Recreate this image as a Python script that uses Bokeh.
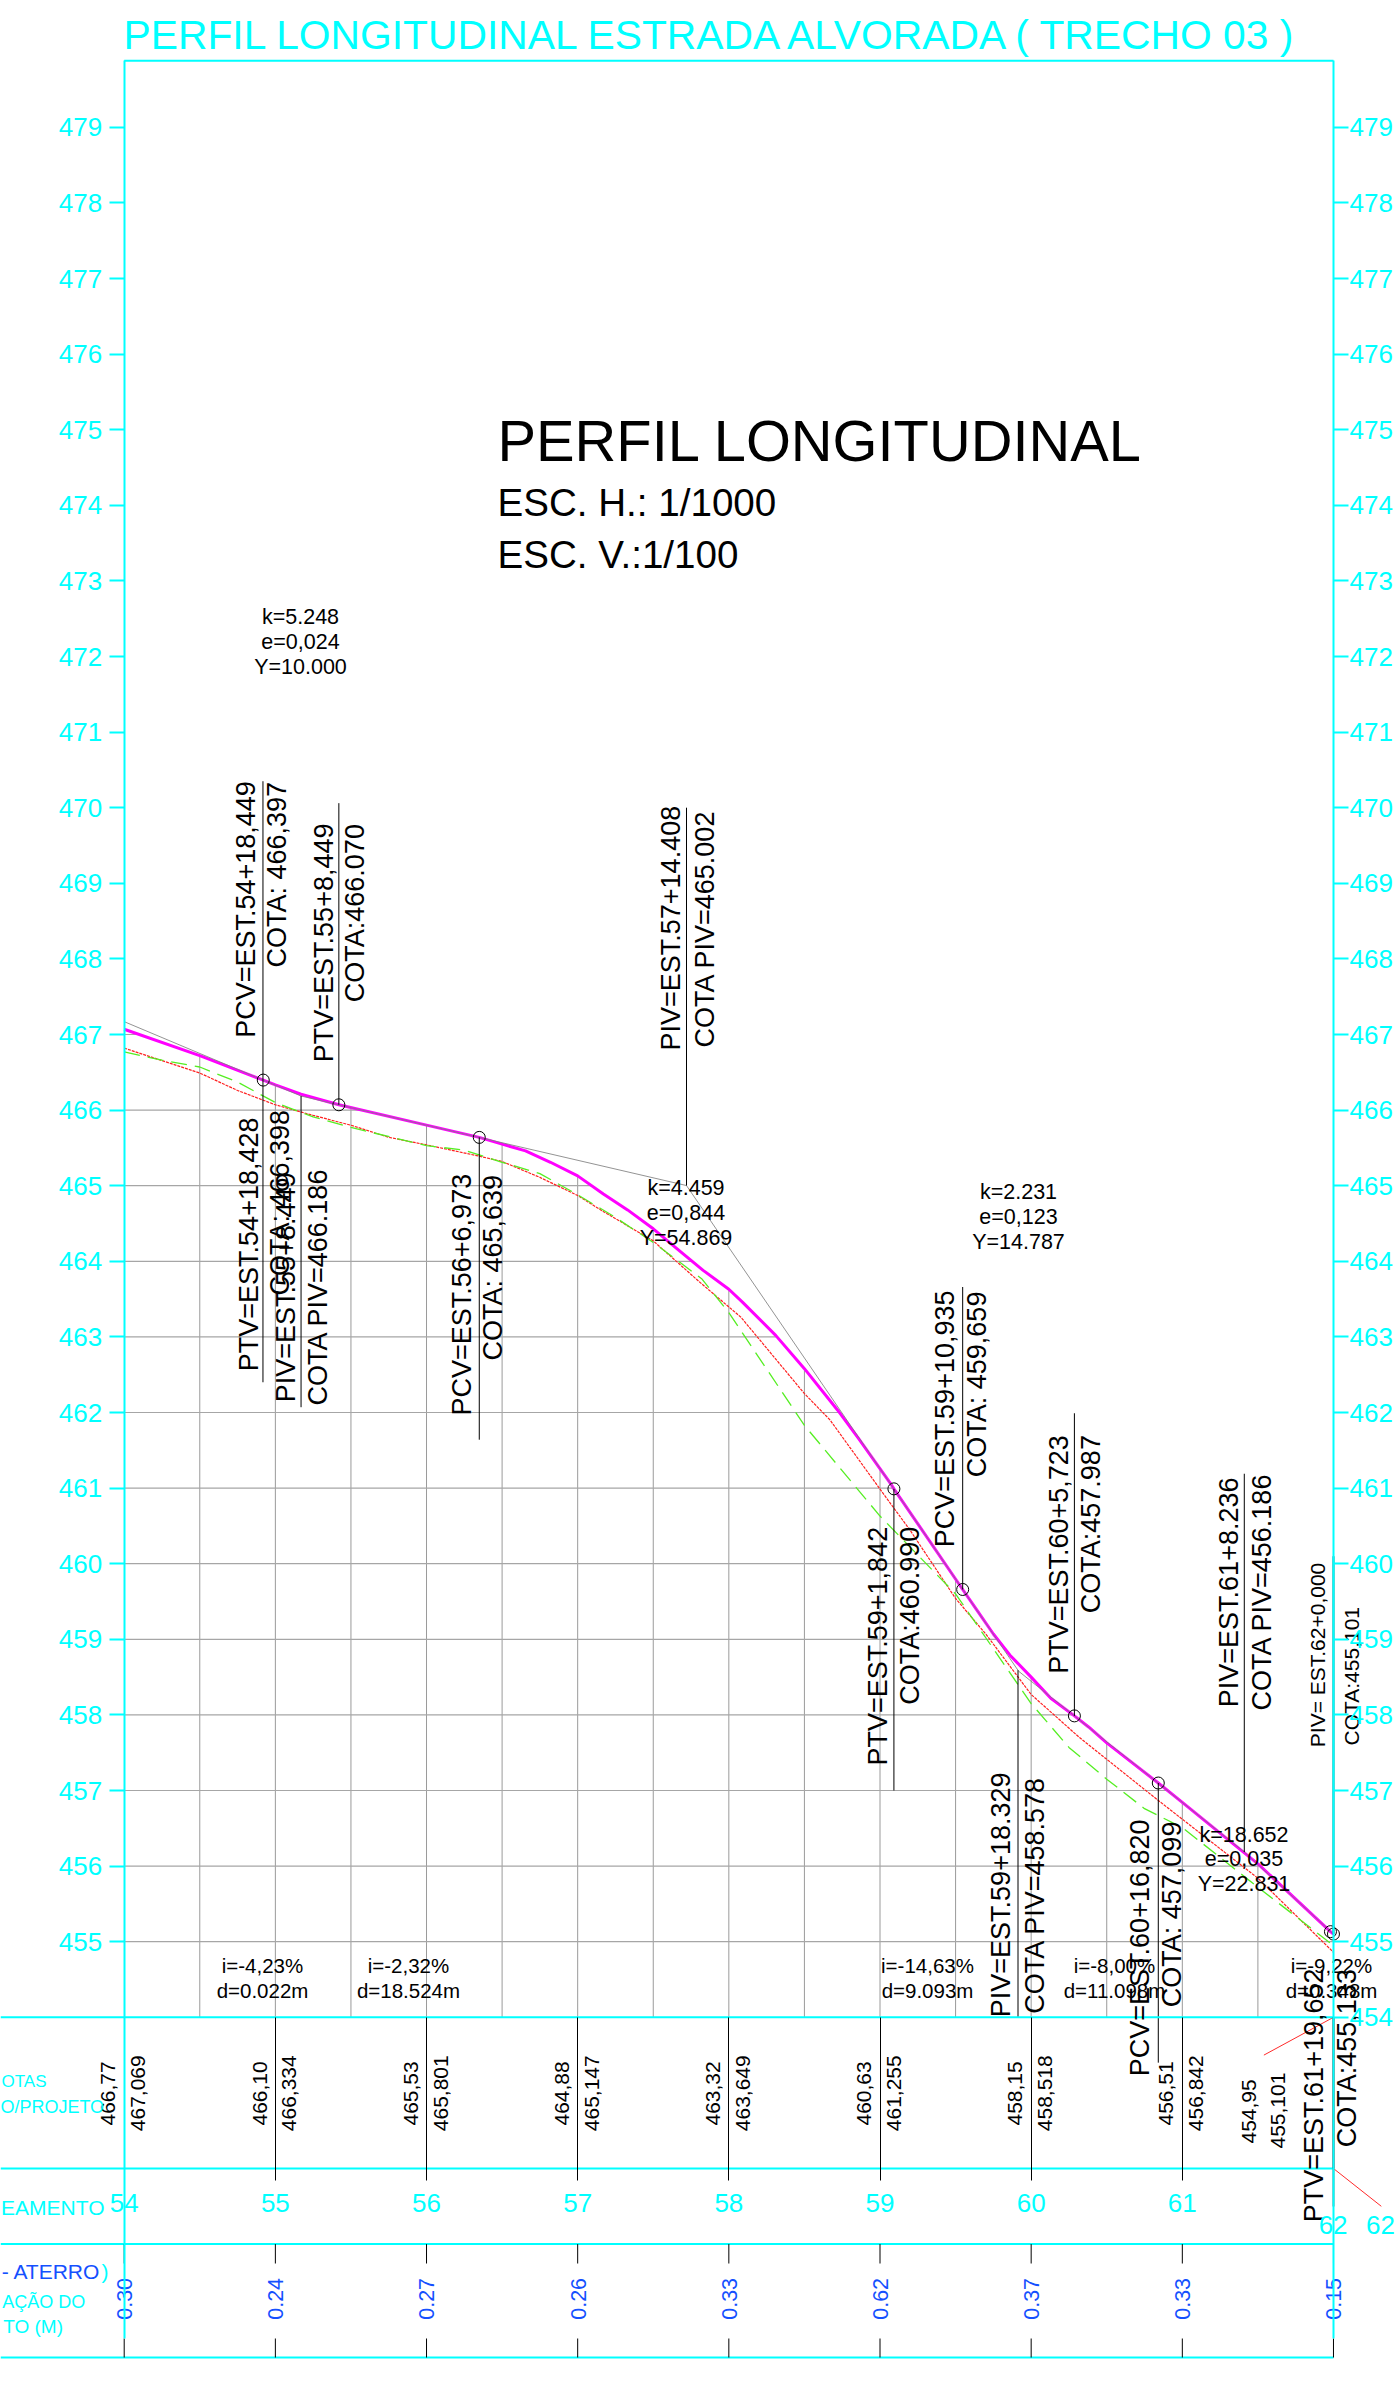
import math
import numpy as np
from bokeh.core.properties import value
from bokeh.embed import file_html
from bokeh.models import FixedTicker, LinearAxis, Range1d
from bokeh.plotting import figure
from bokeh.resources import INLINE

# ---------- data ----------
stations = [54, 55, 56, 57, 58, 59, 60, 61, 62]
terrain_cota = ["466,77", "466,10", "465,53", "464,88", "463,32", "460,63", "458,15", "456,51", "454,95"]
project_cota = ["467,069", "466,334", "465,801", "465,147", "463,649", "461,255", "458,518", "456,842", "455,101"]
offset_values = ["0.30", "0.24", "0.27", "0.26", "0.33", "0.62", "0.37", "0.33", "0.15"]

elevation_ticks_left = list(range(455, 480))
elevation_ticks_right = list(range(454, 480))

profile_st = [54, 54.5, 54.92, 55, 55.17, 55.42, 56, 56.349, 56.5, 56.655, 56.82, 57, 57.17, 57.33, 57.5, 57.66,
              57.83, 58, 58.09, 58.31, 58.5, 58.72, 58.86, 59.07, 59.092, 59.547, 59.64, 59.75, 59.86, 60, 60.13,
              60.286, 60.38, 60.5, 60.841, 61, 61.5, 61.98, 62]
profile_el = [467.069, 466.72, 466.397, 466.334, 466.21, 466.07, 465.801, 465.639, 465.55, 465.46, 465.31, 465.13,
              464.89, 464.68, 464.43, 464.16, 463.88, 463.63, 463.46, 463.02, 462.58, 462.03, 461.65, 461.06, 460.99,
              459.659, 459.39, 459.07, 458.79, 458.5, 458.22, 457.987, 457.84, 457.63, 457.099, 456.842, 456.03,
              455.133, 455.101]

tangent_st = [54, 55.17, 57.72, 59.917, 61.41, 62]
tangent_el = [467.17, 466.186, 465.002, 458.578, 456.186, 455.101]

red_st = [54, 54.5, 54.75, 55, 55.25, 55.5, 55.75, 56, 56.35, 56.5, 56.75, 57, 57.16, 57.5, 57.81, 58.08, 58.5,
          58.67, 58.995, 59.2, 59.5, 59.7, 60, 60.32, 60.84, 61.5, 62]
red_el = [466.82, 466.49, 466.26, 466.07, 465.93, 465.80, 465.64, 465.54, 465.39, 465.32, 465.11, 464.87, 464.67,
          464.27, 463.72, 463.26, 462.25, 461.9, 461.0, 460.44, 459.54, 459.07, 458.27, 457.7, 456.87, 455.84, 454.86]

green_st = [54, 54.25, 54.5, 54.75, 55, 55.25, 55.5, 56, 56.25, 56.5, 56.75, 57, 57.25, 57.5, 57.82, 58, 58.5, 59,
            59.5, 60, 60.25, 60.5, 60.75, 61, 61.5, 62]
green_el = [466.77, 466.66, 466.57, 466.37, 466.10, 465.91, 465.77, 465.53, 465.47, 465.31, 465.16, 464.88, 464.58,
            464.25, 463.77, 463.32, 461.83, 460.63, 459.6, 458.15, 457.57, 457.15, 456.76, 456.51, 455.72, 454.95]

curve_points_st = [54.92, 55.42, 56.349, 59.092, 59.547, 60.286, 60.841, 61.98, 62]
curve_points_el = [466.397, 466.07, 465.639, 460.99, 459.659, 457.987, 457.099, 455.133, 455.101]

grid_half_stations = [54.5, 55, 55.5, 56, 56.5, 57, 57.5, 58, 58.5, 59, 59.5, 60, 60.5, 61, 61.5]
grid_elevations = list(range(455, 468))

# ---------- page <-> data scales ----------
PX_PER_ST = 151.16
PX_PER_M = 75.6


def X(px):
    return 54 + (px - 123.7) / PX_PER_ST


def Y(py):
    return 479 - (py - 126.8) / PX_PER_M


FONT = value("Liberation Sans")
CYAN = "#00ffff"
BLUE = "#1450ff"
BASE = 0.35  # distance between Bokeh's alphabetic anchor and the drawn baseline, in font sizes

p = figure(width=1400, height=2382, output_backend="svg", toolbar_location=None,
           x_range=Range1d(X(0), X(1400)), y_range=Range1d(Y(2382), Y(0)),
           x_axis_location=None, y_axis_location=None, min_border=0,
           background_fill_color="white", border_fill_color="white", outline_line_color=None)
p.grid.visible = False
p.min_border_left = p.min_border_right = p.min_border_top = p.min_border_bottom = 0

# ---------- grid clipped by the project profile ----------
rev_el = profile_el[::-1]
rev_st = profile_st[::-1]
grid_top = np.interp(grid_half_stations, profile_st, profile_el)
p.segment(x0=grid_half_stations, y0=[454] * len(grid_half_stations), x1=grid_half_stations, y1=grid_top,
          line_color="#9a9a9a", line_width=1)
grid_end = np.interp(grid_elevations, rev_el, rev_st)
p.segment(x0=[54] * len(grid_elevations), y0=grid_elevations, x1=grid_end, y1=grid_elevations,
          line_color="#a6a6a6", line_width=1.2)

# ---------- profiles ----------
p.line(red_st, red_el, line_color="#ff2020", line_width=1.2, line_dash="3 1")
p.line(green_st, green_el, line_color="#55ee22", line_width=1.3, line_dash="16 8")
p.line(profile_st, profile_el, line_color="#ff00ff", line_width=3, line_join="round")
p.line(tangent_st, tangent_el, line_color="#808080", line_width=1, line_alpha=0.85)

# ---------- leaders ----------
leaders = [(54.918, 462.4, 470.35), (55.42, 466.07, 470.06), (55.17, 462.07, 466.186), (56.349, 461.64, 465.639),
           (57.72, 465.002, 470.0), (59.092, 457.0, 460.99), (59.547, 459.659, 463.66), (60.286, 457.987, 461.99),
           (61.41, 456.186, 461.19), (59.913, 454.0, 458.59), (60.841, 453.4, 457.099)]
p.segment(x0=[l[0] for l in leaders], y0=[l[1] for l in leaders], x1=[l[0] for l in leaders],
          y1=[l[2] for l in leaders], line_color="black", line_width=1)
p.scatter(curve_points_st, curve_points_el, size=12, marker="circle", fill_color=None, line_color="black", line_width=1)

# outlying red strokes at the end of the profile
p.segment(x0=[X(1263.4), 62], y0=[453.5, 452], x1=[62, X(1380.8)], y1=[454, 451.5], line_color="#ff2a2a", line_width=1)

# ---------- table ruling ----------
table_levels = [454, 452, 451, 449.5]
p.segment(x0=[X(0)] * 4, y0=table_levels, x1=[62] * 4, y1=table_levels, line_color=CYAN, line_width=2)
p.line([54, 62], [Y(60.3), Y(60.3)], line_color=CYAN, line_width=2)
p.segment(x0=stations, y0=[451] * 9, x1=stations, y1=[Y(2263)] * 9, line_color="black", line_width=1)
p.segment(x0=stations, y0=[Y(2338)] * 9, x1=stations, y1=[449.5] * 9, line_color="black", line_width=1)

# ---------- axes ----------
BOUNDS = (Y(2338), Y(60.3))
for side, loc, ticks, standoff in (("left", 54, elevation_ticks_left, 7), ("right", 62, elevation_ticks_right, 1)):
    ax = LinearAxis(fixed_location=loc, ticker=FixedTicker(ticks=ticks), bounds=BOUNDS,
                    axis_line_color=CYAN, axis_line_width=2, major_tick_line_color=CYAN, major_tick_line_width=2,
                    major_tick_in=0, major_tick_out=15, minor_tick_line_color=None,
                    major_label_text_color=CYAN, major_label_text_font="Liberation Sans",
                    major_label_text_font_size="26px", major_label_standoff=standoff,
                    major_label_orientation="horizontal")
    p.add_layout(ax, side)

st_axis = LinearAxis(fixed_location=452, ticker=FixedTicker(ticks=stations[:-1]), axis_line_color=None,
                     major_tick_line_color="black", major_tick_line_width=1, major_tick_in=151, major_tick_out=12,
                     minor_tick_line_color=None, major_label_text_color=CYAN,
                     major_label_text_font="Liberation Sans", major_label_text_font_size="26px",
                     major_label_standoff=13)
p.add_layout(st_axis, "below")

# right-hand closing stretch, over the cyan axis
p.segment(x0=[62, 62, 62], y0=[455.1, 452, Y(2206)], x1=[62, 62, 62], y1=[460.1, 454, 452],
          line_color=["#007f7f", "#301010", "#777777"], line_width=2)


def put(text, px, py, size, color="black", angle=0, align="left"):
    if angle:
        px -= BASE * size
    else:
        py -= BASE * size
    p.text(x=[X(px)], y=[Y(py)], text=[text], text_font=FONT, text_font_size=f"{size}px", text_color=color,
           angle=angle, text_align=align, text_baseline="alphabetic")


UP = math.pi / 2

put("PERFIL LONGITUDINAL ESTRADA ALVORADA ( TRECHO 03 )", 123, 49, 40.8, CYAN)
put("PERFIL LONGITUDINAL", 497, 461, 57.8)
put("ESC. H.: 1/1000", 497, 516, 38.6)
put("ESC. V.:1/100", 497, 568, 38.6)

for lines, cx, ys in ((("k=5.248", "e=0,024", "Y=10.000"), 300, (624, 649, 674)),
                      (("k=4.459", "e=0,844", "Y=54.869"), 685.5, (1195, 1220, 1245)),
                      (("k=2.231", "e=0,123", "Y=14.787"), 1018, (1199.3, 1224.3, 1249.3)),
                      (("k=18.652", "e=0,035", "Y=22.831"), 1243.5, (1841.7, 1866, 1890.7))):
    for t, y in zip(lines, ys):
        put(t, cx, y, 21.5, align="center")

for t, x, y, s in (("PCV=EST.54+18,449", 255.4, 1037.3, 27), ("COTA: 466,397", 285.7, 967, 27),
                   ("PTV=EST.55+8,449", 332.6, 1061.7, 27), ("COTA:466.070", 363.8, 1001.7, 27),
                   ("PIV=EST.57+14.408", 679.5, 1050, 27), ("COTA PIV=465.002", 713.7, 1047, 27),
                   ("PTV=EST.54+18,428", 257.6, 1370.7, 27), ("COTA: 466,398", 289.3, 1295, 27),
                   ("PIV=EST.55+8.449", 294.6, 1401.7, 27), ("COTA PIV=466.186", 327, 1405, 27),
                   ("PCV=EST.56+6,973", 471, 1415, 27), ("COTA: 465,639", 502, 1360, 27),
                   ("PCV=EST.59+10,935", 953.6, 1546.7, 27), ("COTA: 459,659", 985.7, 1476.7, 27),
                   ("PTV=EST.59+1,842", 886.6, 1765, 27), ("COTA:460.990", 918.7, 1704.3, 27),
                   ("PTV=EST.60+5,723", 1068.3, 1673.3, 27), ("COTA:457.987", 1099.6, 1612.7, 27),
                   ("PIV=EST.61+8.236", 1238, 1706.7, 27), ("COTA PIV=456.186", 1270.5, 1710, 27),
                   ("PIV=EST.59+18.329", 1010, 2016.7, 27), ("COTA PIV=458.578", 1043.8, 2013.3, 27),
                   ("PCV=EST.60+16,820", 1148.7, 2075.7, 27), ("COTA: 457,099", 1181, 2006.7, 27),
                   ("PTV=EST.61+19,652", 1322.8, 2221.7, 27), ("COTA:455,133", 1356, 2146.7, 27),
                   ("PIV= EST.62+0,000", 1324, 1746.7, 21), ("COTA:455,101", 1358.5, 1745, 21)):
    put(t, x, y, s, angle=UP)

for (a, b), cx in ((("i=-4,23%", "d=0.022m"), 262), (("i=-2,32%", "d=18.524m"), 408),
                   (("i=-14,63%", "d=9.093m"), 927), (("i=-8,00%", "d=11.098m"), 1114),
                   (("i=-9,22%", "d=0.348m"), 1331)):
    put(a, cx, 1971.7, 20.5, align="center")
    put(b, cx, 1996.7, 20.5, align="center")

# table values
for st, t, pj, v in zip(stations[:-1], terrain_cota, project_cota, offset_values):
    p.text(x=[st], y=[Y(2125)], text=[t], x_offset=-8.5 - BASE * 21, text_font=FONT, text_font_size="21px", angle=UP,
           text_baseline="alphabetic")
    p.text(x=[st], y=[Y(2130.7)], text=[pj], x_offset=21.4 - BASE * 21, text_font=FONT, text_font_size="21px", angle=UP,
           text_baseline="alphabetic")
    p.text(x=[st], y=[Y(2319.3)], text=[v], x_offset=8 - BASE * 21.5, text_font=FONT, text_font_size="21.5px",
           text_color=BLUE, angle=UP, text_baseline="alphabetic")
put(terrain_cota[-1], 1255.8, 2143, 21, angle=UP)
put(project_cota[-1], 1284.8, 2148, 21, angle=UP)
p.text(x=[62], y=[Y(2319.3)], text=[offset_values[-1]], x_offset=8 - BASE * 21.5, text_font=FONT,
       text_font_size="21.5px", text_color=BLUE, angle=UP, text_baseline="alphabetic")

put("62", 1332.6, 2234, 26, CYAN, align="center")
put("62", 1380, 2234, 26, CYAN, align="center")

# row captions, as far as the sheet shows them
put("OTAS", 46, 2087, 17, CYAN, align="right")
put("O/PROJETO", 103.6, 2112.7, 18, CYAN, align="right")
put("EAMENTO", 104, 2214, 21, CYAN, align="right")
put("- ATERRO", 100, 2278.3, 21, BLUE, align="right")
put(")", 108, 2278.3, 21, CYAN, align="right")
put("AÇÃO DO", 84.8, 2307.3, 18, CYAN, align="right")
put("TO (M)", 62.5, 2332.7, 19, CYAN, align="right")

open("out.html", "w").write(file_html(p, INLINE))
